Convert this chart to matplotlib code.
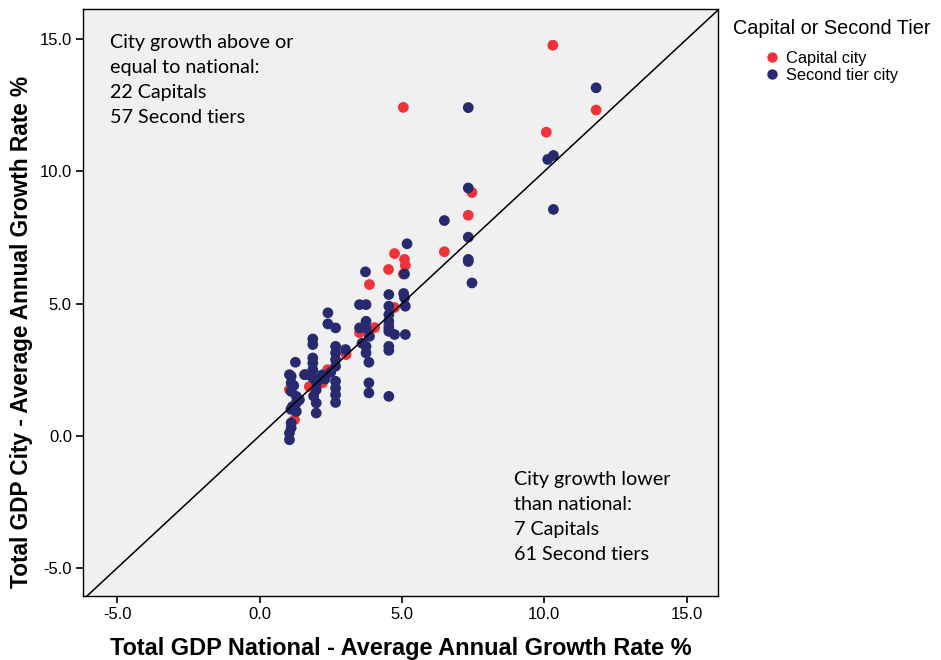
import matplotlib.pyplot as plt
from matplotlib.lines import Line2D

# Capital cities (national growth %, city growth %)
cap_x = [10.30, 5.05, 10.07, 11.82, 7.46, 7.33, 6.49, 4.74, 5.09, 5.12, 4.53, 5.05,
         3.86, 4.74, 3.51, 4.04, 3.04, 2.39, 2.21, 1.75, 1.05, 1.23, 4.54, 2.05]
cap_y = [14.77, 12.42, 11.48, 12.32, 9.20, 8.34, 6.96, 6.89, 6.67, 6.44, 6.29, 6.12,
         5.72, 4.85, 3.90, 4.09, 3.07, 2.50, 2.00, 1.86, 1.74, 0.61, 4.20, 2.25]

# Second tier cities
sec_x = [11.82, 7.33, 10.12, 10.32, 10.32, 7.33, 6.49, 7.33, 7.33, 7.33, 7.46, 5.18,
         3.72, 5.09,
         4.54, 5.06, 5.09, 5.12, 3.51, 3.74, 4.54, 4.54, 4.54, 4.54, 4.74, 5.12,
         3.74, 3.51, 3.74, 3.86, 3.74, 3.74, 3.84, 4.54, 4.54, 3.84, 3.84, 4.54,
         2.40, 2.40, 2.67, 1.87, 1.87, 2.67, 2.67, 2.67, 2.67, 3.02,
         1.87, 1.87, 1.87, 1.87, 1.26, 1.58, 1.11, 1.11, 1.11,
         2.67, 2.67, 2.67, 2.67, 1.99, 1.99, 1.99, 1.29, 1.29, 1.29, 1.11, 1.11,
         1.05, 1.05, 1.05, 1.61, 2.05, 1.40, 2.20, 2.30, 1.10, 1.20, 1.90, 2.00,
         4.54, 3.60, 1.15, 2.50]
sec_y = [13.16, 12.41, 10.45, 10.60, 8.56, 9.37, 8.14, 7.51, 6.67, 6.59, 5.78, 7.26,
         6.20, 6.12,
         5.34, 5.38, 5.22, 4.90, 4.96, 4.96, 4.90, 4.58, 4.33, 4.08, 3.83, 3.83,
         4.33, 4.08, 4.08, 3.76, 3.38, 3.13, 2.78, 3.38, 3.23, 2.00, 1.62, 1.49,
         4.65, 4.23, 4.08, 3.66, 3.45, 3.38, 3.13, 2.88, 2.63, 3.26,
         2.94, 2.75, 2.50, 2.19, 2.78, 2.31, 2.25, 2.00, 1.68,
         2.06, 1.80, 1.55, 1.26, 1.74, 1.24, 0.86, 1.49, 1.24, 0.92, 0.49, 0.30,
         0.10, -0.15, 2.31, 2.31, 2.10, 1.36, 2.30, 2.15, 1.00, 1.90, 1.50, 2.00,
         3.95, 3.50, 1.10, 2.40]

ticks = [-5.0, 0.0, 5.0, 10.0, 15.0]
tick_labels = ['-5.0', '0.0', '5.0', '10.0', '15.0']

red = '#F0323A'
navy = '#272A6E'

fig = plt.figure(figsize=(9.41, 6.60), dpi=100)
ax = fig.add_axes([83 / 941, 1 - 596 / 660, 635 / 941, 587 / 660])
ax.set_facecolor('#F0F0F0')

ax.set_xlim(-6.2, 16.1)
ax.set_ylim(-6.06, 16.14)

# reference line y = x
ax.plot([-7, 17], [-7, 17], color='black', lw=1.1, zorder=4)

ax.scatter(cap_x, cap_y, s=60, color=red, edgecolors='none', zorder=2)
ax.scatter(sec_x, sec_y, s=60, color=navy, edgecolors='none', zorder=3)

ax.set_xticks(ticks)
ax.set_xticklabels(tick_labels)
ax.set_yticks(ticks)
ax.set_yticklabels(tick_labels)
for lab in ax.get_xticklabels() + ax.get_yticklabels():
    lab.set_fontfamily('Liberation Sans')
    lab.set_fontsize(12)
ax.tick_params(direction='out', length=5, width=1.2, color='black', pad=3)
for sp in ax.spines.values():
    sp.set_linewidth(1.0)
    sp.set_color('black')

fig.text(401 / 941, 1 - 648 / 660, 'Total GDP National - Average Annual Growth Rate %',
         ha='center', va='center', fontsize=16.9, fontweight='bold', family='Liberation Sans')
fig.text(22 / 941, 1 - 332 / 660, 'Total GDP City - Average Annual Growth Rate %',
         ha='center', va='center', rotation=90, fontsize=16.3, fontweight='bold',
         family='Liberation Sans')

ax.text(0.0425, 0.958, 'City growth above or\nequal to national:\n22 Capitals\n57 Second tiers',
        transform=ax.transAxes, ha='left', va='top', fontsize=14.2, family='Lato',
        linespacing=1.58)
ax.text(0.679, 0.213, 'City growth lower\nthan national:\n7 Capitals\n61 Second tiers',
        transform=ax.transAxes, ha='left', va='top', fontsize=14.2, family='Lato',
        linespacing=1.58)

# legend
fig.text(733 / 941, 1 - 29 / 660, 'Capital or Second Tier', ha='left', va='center',
         fontsize=14.3, family='Liberation Sans')
handles = [Line2D([], [], ls='none', marker='o', markersize=7.5, color=red, mec='none'),
           Line2D([], [], ls='none', marker='o', markersize=7.5, color=navy, mec='none')]
fig.legend(handles, ['Capital city', 'Second tier city'], loc='upper left',
           bbox_to_anchor=(765 / 941, 1 - 51 / 660), frameon=False,
           prop={'family': 'Liberation Sans', 'size': 11.8}, handlelength=0.8,
           handletextpad=0.5, labelspacing=0.12, borderpad=0, borderaxespad=0)

fig.savefig('out.png', dpi=100)
